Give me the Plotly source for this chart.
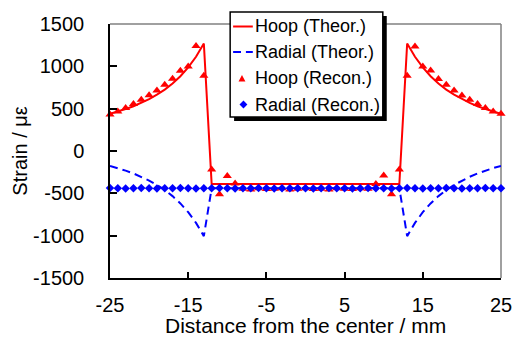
import plotly.graph_objects as go

# distance from the center (mm), 1 mm steps
x = list(range(-25, 26))

hoop_theor = [440, 466, 496, 529, 568, 613, 665, 725, 797, 883, 987, 1113, 1270] + \
             [-390] * 25 + \
             [1270, 1113, 987, 883, 797, 725, 665, 613, 568, 529, 496, 466, 440]

radial_theor = [-176, -202, -232, -265, -304, -349, -401, -461, -533, -619, -723, -849, -1006] + \
               [-440] * 25 + \
               [-1006, -849, -723, -619, -533, -461, -401, -349, -304, -265, -232, -202, -176]

hoop_recon = [430, 468, 508, 555, 606, 657, 716, 782, 853, 947, 998, 1241, 888,
              -218, -512, -296, -385,
              -445, -455, -440, -450, -445, -440, -455, -445, -440, -450, -445, -455, -440, -445, -450, -440, -445,
              -390, -290, -512, -218,
              888, 1235, 998, 950, 850, 782, 716, 655, 606, 555, 508, 468, 440]

radial_recon = [-438, -440, -442, -440, -438, -440, -442, -440, -440, -438, -440, -442, -440,
                -440, -438, -440, -442, -440, -440, -438, -440, -442, -440, -440, -440, -440,
                -442, -440, -438, -440, -440, -442, -440, -438, -440, -440, -442, -440, -438,
                -440, -442, -440, -440, -438, -440, -442, -440, -440, -438, -440, -440]

x_ticks = [-25, -15, -5, 5, 15, 25]
x_ticklabels = ["-25", "-15", "-5", "5", "15", "25"]
y_ticks = [-1500, -1000, -500, 0, 500, 1000, 1500]
y_ticklabels = ["-1500", "-1000", "-500", "0", "500", "1000", "1500"]

series_names = ["Hoop (Theor.)", "Radial (Theor.)", "Hoop (Recon.)", "Radial (Recon.)"]
x_title = "Distance from the center / mm"
y_title = "Strain / με"

FONT = "Liberation Sans, Arial, sans-serif"
RED = "#FF0000"
BLUE = "#0000FF"

# plot area in pixels (for placing the hand-drawn legend box)
W, H = 524, 339
ML, MR, MT, MB = 110, 17, 24, 61
PW, PH = W - ML - MR, H - MT - MB


def px(xp):
    return (xp - ML) / PW


def py(yp):
    return (H - MB - yp) / PH


fig = go.Figure()
fig.add_trace(go.Scatter(x=x, y=hoop_theor, mode="lines", name=series_names[0],
                         line=dict(color=RED, width=2), cliponaxis=False, showlegend=False))
fig.add_trace(go.Scatter(x=x, y=radial_theor, mode="lines", name=series_names[1],
                         line=dict(color=BLUE, width=2, dash="8px,5px"), cliponaxis=False, showlegend=False))
fig.add_trace(go.Scatter(x=x, y=hoop_recon, mode="markers", name=series_names[2],
                         marker=dict(symbol="triangle-up", color=RED, size=8), cliponaxis=False, showlegend=False))
fig.add_trace(go.Scatter(x=x, y=radial_recon, mode="markers", name=series_names[3],
                         marker=dict(symbol="diamond", color=BLUE, size=6.5), cliponaxis=False, showlegend=False))

# legend box (drawn by hand to match the original's compact layout)
LX0, LX1, LY0, LY1 = 232, 387, 12, 117
rows = [26.5, 52.0, 78.5, 104.5]
shapes = [
    dict(type="line", xref="paper", yref="paper", x0=0, x1=1, y0=1, y1=1,
         line=dict(color="#808080", width=1.5), layer="below"),
    dict(type="line", xref="paper", yref="paper", x0=1, x1=1, y0=0, y1=1,
         line=dict(color="#808080", width=1.5), layer="below"),
    # shadow
    dict(type="rect", xref="paper", yref="paper", x0=px(LX0 + 4), x1=px(LX1 + 4),
         y0=py(LY1 + 4), y1=py(LY0 + 4), fillcolor="black", line=dict(width=0), layer="above"),
    # box
    dict(type="rect", xref="paper", yref="paper", x0=px(LX0), x1=px(LX1),
         y0=py(LY1), y1=py(LY0), fillcolor="white", line=dict(color="black", width=1.5), layer="above"),
    # hoop theor sample
    dict(type="line", xref="paper", yref="paper", x0=px(235), x1=px(255), y0=py(rows[0]), y1=py(rows[0]),
         line=dict(color=RED, width=2), layer="above"),
    # radial theor sample (two dashes)
    dict(type="line", xref="paper", yref="paper", x0=px(235), x1=px(243), y0=py(rows[1]), y1=py(rows[1]),
         line=dict(color=BLUE, width=2), layer="above"),
    dict(type="line", xref="paper", yref="paper", x0=px(248), x1=px(255), y0=py(rows[1]), y1=py(rows[1]),
         line=dict(color=BLUE, width=2), layer="above"),
]
# triangle sample
tx, ty = 244, rows[2]
shapes.append(dict(type="path", xref="paper", yref="paper", layer="above",
                   path=f"M {px(tx - 3.5)} {py(ty + 3)} L {px(tx + 3.5)} {py(ty + 3)} L {px(tx)} {py(ty - 3.5)} Z",
                   fillcolor=RED, line=dict(width=0)))
# diamond sample
dx, dy = 245.5, rows[3]
shapes.append(dict(type="path", xref="paper", yref="paper", layer="above",
                   path=f"M {px(dx - 4)} {py(dy)} L {px(dx)} {py(dy - 4)} L {px(dx + 4)} {py(dy)} L {px(dx)} {py(dy + 4)} Z",
                   fillcolor=BLUE, line=dict(width=0)))

annotations = [
    dict(text=name, xref="paper", yref="paper", x=px(255), y=py(r), xanchor="left", yanchor="middle",
         showarrow=False, font=dict(size=18, family=FONT, color="black"))
    for name, r in zip(series_names, rows)
]
# x-axis title (placed as annotation to sit close to the tick labels)
annotations.append(dict(text=x_title, xref="paper", yref="paper", x=0.5, y=py(325),
                        xanchor="center", yanchor="middle", showarrow=False,
                        font=dict(size=21, family=FONT, color="black")))

fig.update_layout(
    width=W, height=H,
    margin=dict(l=ML, r=MR, t=MT, b=MB),
    plot_bgcolor="white", paper_bgcolor="white",
    font=dict(family=FONT, size=20, color="black"),
    showlegend=False,
    hovermode=False,
    shapes=shapes,
    annotations=annotations,
)
fig.update_xaxes(range=[-25, 25], tickvals=x_ticks, ticktext=x_ticklabels, ticks="inside", ticklen=6,
                 tickwidth=1.5, tickcolor="black", showline=True, linecolor="black",
                 linewidth=1.5, showgrid=False, zeroline=False, ticklabelstandoff=8)
fig.update_yaxes(range=[-1500, 1500], tickvals=y_ticks, ticktext=y_ticklabels, ticks="inside", ticklen=7,
                 tickwidth=1.5, tickcolor="black", showline=True, linecolor="black",
                 linewidth=1.5, showgrid=False, zeroline=False, ticklabelstandoff=20,
                 title=dict(text=y_title, font=dict(size=20), standoff=0))

# remove the browser's default page margin so the figure sits at the window's corner
fig.write_html("out.html", config={"displayModeBar": False},
               post_script="document.body.style.margin='0';")
